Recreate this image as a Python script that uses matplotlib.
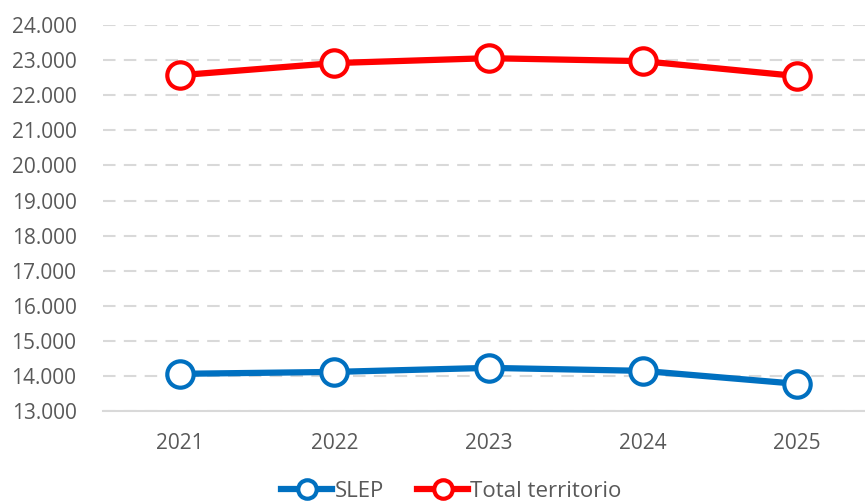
import matplotlib.pyplot as plt
from matplotlib.ticker import FuncFormatter

years = ["2021", "2022", "2023", "2024", "2025"]
slep = [14060, 14115, 14230, 14145, 13775]
total = [22575, 22920, 23060, 22975, 22550]

plt.rcParams['font.family'] = ['Open Sans', 'DejaVu Sans']
grey = '#595959'

fig = plt.figure(figsize=(8.65, 5.04), dpi=100)
ax = fig.add_axes([0.119, 0.1845, 0.881, 0.7655])

x = range(len(years))
ax.plot(x, slep, color='#0070C0', lw=4.5, marker='o', ms=19, mfc='white',
        mec='#0070C0', mew=3, label='SLEP', zorder=3)
ax.plot(x, total, color='#FF0000', lw=4.5, marker='o', ms=19, mfc='white',
        mec='#FF0000', mew=3, label='Total territorio', zorder=3)

ax.set_ylim(13000, 24000)
ax.set_yticks(range(13000, 24001, 1000))
ax.yaxis.set_major_formatter(FuncFormatter(lambda v, p: f"{int(v):,}".replace(",", ".")))
ax.set_xlim(-0.5, 4.44)
ax.set_xticks(list(x))
ax.set_xticklabels(years)

ax.grid(axis='y', color='#D9D9D9', lw=1.5, ls=(0, (6, 4)))
ax.set_axisbelow(True)
for s in ['top', 'right', 'left']:
    ax.spines[s].set_visible(False)
ax.spines['bottom'].set_color('#D9D9D9')
ax.spines['bottom'].set_linewidth(1.5)
ax.tick_params(axis='both', length=0, colors=grey, labelsize=15)
ax.tick_params(axis='x', pad=16)
ax.tick_params(axis='y', pad=19)

fig.legend(loc='lower center', bbox_to_anchor=(0.522, -0.035), ncol=2, frameon=False,
           fontsize=16, labelcolor=grey, handlelength=2.3, handletextpad=0.1,
           columnspacing=1.5, markerscale=0.7)

fig.savefig('out.png', dpi=100)
